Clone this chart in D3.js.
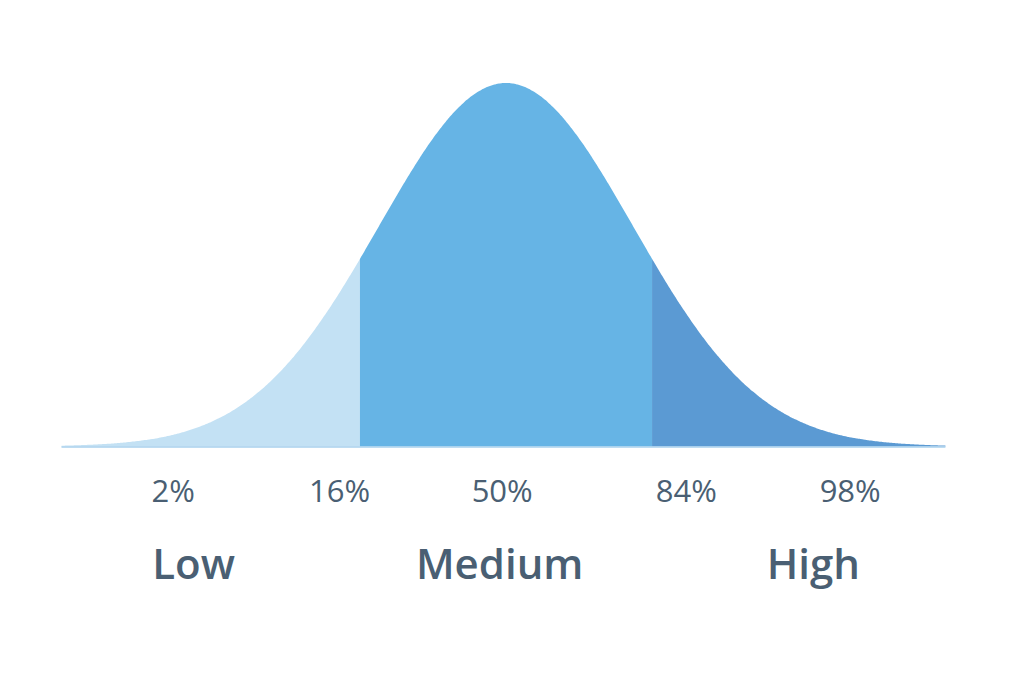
<!DOCTYPE html>
<html><head><meta charset="utf-8">
<script src="https://cdn.jsdelivr.net/npm/d3@7"></script>
<style>html,body{margin:0;padding:0;background:#fff;}svg{display:block;}</style>
</head><body>
<svg id="chart" width="1024" height="683"></svg>
<script>
// Data (z-scores)
const curveDomain = [-3.5, 3.46];
const segmentBreaks = [-3.5, -1.15, 1.15, 3.46];
const segmentNames = ["Low", "Medium", "High"];
const segmentColors = ["#c3e1f4", "#66b4e5", "#5b9ad3"];
const percentLabels = ["2%", "16%", "50%", "84%", "98%"];
const percentPositions = [-2.62, -1.31, -0.03, 1.42, 2.71];
const categoryLabels = ["Low", "Medium", "High"];
const categoryPositions = [-2.46, -0.05, 2.42];

const svg = d3.select("#chart");
const x = d3.scaleLinear().domain([-3.5, 3.5]).range([61.5, 950.5]);
const pdf = z => Math.exp(-0.5 * z * z) / Math.sqrt(2 * Math.PI);
const y = d3.scaleLinear().domain([0, pdf(0)]).range([446.5, 83]);

const area = d3.area().x(d => x(d)).y0(y(0)).y1(d => y(pdf(d))).curve(d3.curveBasis);

for (let i = 0; i < segmentNames.length; i++) {
  const a = segmentBreaks[i], b = segmentBreaks[i + 1];
  const pts = d3.range(0, 201).map(k => a + (b - a) * k / 200);
  svg.append("path").attr("d", area(pts)).attr("fill", segmentColors[i]);
}

svg.append("line")
  .attr("x1", x(curveDomain[0])).attr("x2", x(curveDomain[1]))
  .attr("y1", y(0) + 0.5).attr("y2", y(0) + 0.5)
  .attr("stroke", "#a8d0ec").attr("stroke-width", 1.5);

const textColor = "#4a5f73";
svg.selectAll("text.pct").data(percentLabels).enter().append("text")
  .attr("class", "pct")
  .attr("x", (d, i) => x(percentPositions[i]))
  .attr("y", 501.5)
  .attr("text-anchor", "middle")
  .attr("font-family", "Open Sans")
  .attr("font-size", 31)
  .attr("font-weight", 500)
  .attr("fill", textColor)
  .text(d => d);

svg.selectAll("text.cat").data(categoryLabels).enter().append("text")
  .attr("class", "cat")
  .attr("x", (d, i) => x(categoryPositions[i]))
  .attr("y", 579)
  .attr("text-anchor", "middle")
  .attr("font-family", "Open Sans")
  .attr("font-size", 42)
  .attr("font-weight", 600)
  .attr("fill", textColor)
  .text(d => d);
</script>
</body></html>
